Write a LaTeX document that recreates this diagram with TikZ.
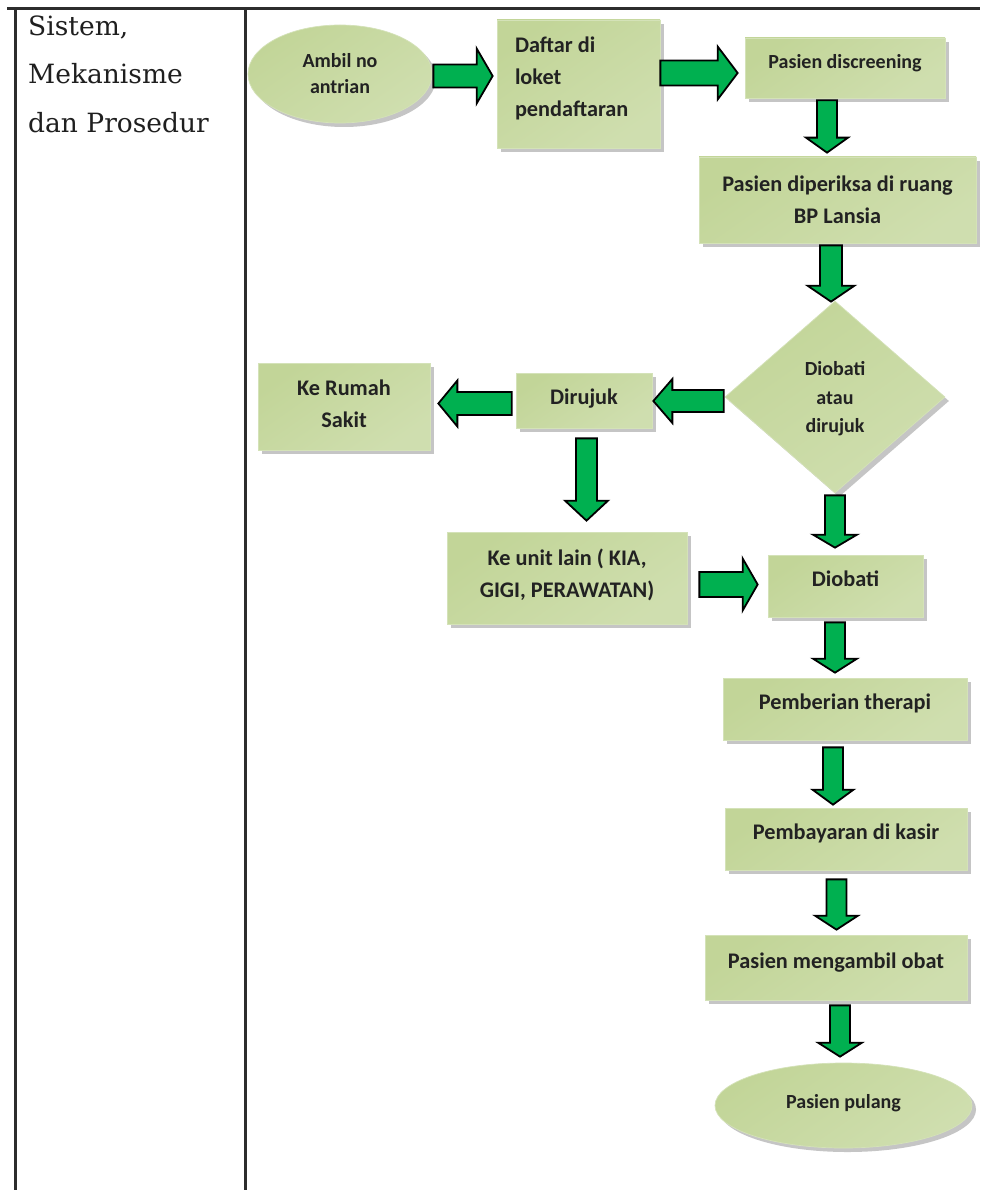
\documentclass[tikz,border=0pt]{standalone}
\usepackage{fontspec}
\newfontfamily\carlito{Carlito}
\newfontfamily\djserif{DejaVu Serif}
\usetikzlibrary{shapes.geometric,shadows,calc}
\definecolor{boxdark}{RGB}{194,213,152}
\definecolor{boxlight}{RGB}{238,244,228}
\definecolor{boxedge}{RGB}{212,226,184}
\definecolor{agreen}{RGB}{0,176,80}
\definecolor{txt}{RGB}{34,34,34}
\definecolor{rulec}{RGB}{45,45,45}
\newcommand\blockarrow[5]{%
  \coordinate (bs) at (#1);
  \coordinate (bt) at (#2);
  \coordinate (bb) at ($(bt)!#5!(bs)$);
  \draw[blockarr] ($(bs)!#3!90:(bt)$) -- ($(bb)!#3!90:(bt)$) -- ($(bb)!#4!90:(bt)$) -- (bt)
     -- ($(bb)!#4!-90:(bt)$) -- ($(bb)!#3!-90:(bt)$) -- ($(bs)!#3!-90:(bt)$) -- cycle;
}
\begin{document}
\begin{tikzpicture}[x=1pt,y=-1pt,
  fillbase/.style={draw=boxedge, line width=0.7pt, top color=boxdark, middle color=boxlight,
     bottom color=boxdark!70!boxlight, shading angle=35,
     drop shadow={shadow xshift=4pt,shadow yshift=-4pt,fill=black!45},
     text=txt, align=center, inner sep=1pt},
  bigtext/.style={font=\carlito\bfseries\fontsize{22.3}{32}\selectfont},
  smalltext/.style={font=\carlito\bfseries\fontsize{20}{27}\selectfont},
  box/.style={fillbase, rectangle, bigtext},
  oneline/.style={text height=14pt, text depth=13pt},
  oval/.style={fillbase, ellipse, smalltext, inner sep=0pt},
  decision/.style={fillbase, diamond, inner sep=0pt, font=\carlito\bfseries\fontsize{20}{28.5}\selectfont},
  blockarr/.style={fill=agreen, draw=black, line width=1.8pt, line join=miter},
  tableline/.style={draw=rulec, line width=3pt},
  seriflabel/.style={anchor=base west, inner sep=0pt, text=black!88, font=\djserif\fontsize{26.5}{30}\selectfont}
]
\useasboundingbox (0,0) rectangle (980,1190);
\fill[white] (0,0) rectangle (980,1190);

% table rules
\draw[tableline] (7,9) -- (980,9);
\draw[tableline] (15,9) -- (15,1190);
\draw[tableline] (245,9) -- (245,1190);

% left column text
\node[seriflabel] (l1) at (28,36) {Sistem,};
\node[seriflabel] (l2) at (28,84) {Mekanisme};
\node[seriflabel] (l3) at (28,133) {dan Prosedur};

% nodes
\node[oval, minimum width=184pt, minimum height=98pt, font=\carlito\bfseries\fontsize{20}{26}\selectfont] (ambil) at (340,74) {Ambil no\\antrian};
\node[box, minimum width=163pt, minimum height=128pt, text width=127pt, align=flush left, text depth=78pt] (daftar) at (578.5,84) {Daftar di\\loket\\pendaftaran};
\node[box, oneline, smalltext, minimum width=200pt, minimum height=60pt] (screen) at (845,68) {Pasien discreening};
\node[box, minimum width=277pt, minimum height=86pt] (periksa) at (837.5,200) {Pasien diperiksa di ruang\\BP Lansia};
\node[decision, minimum width=220pt, minimum height=192pt, text depth=-4pt] (dia) at (835,397) {Diobati\\atau\\dirujuk};
\node[box, text height=14pt, text depth=6pt, minimum width=136pt, minimum height=55pt] (dirujuk) at (584,400.5) {Dirujuk};
\node[box, minimum width=172pt, minimum height=87pt, text depth=6pt] (rs) at (344,406.5) {Ke Rumah\\Sakit};
\node[box, minimum width=240pt, minimum height=92pt, text depth=10pt] (unit) at (567,578) {Ke unit lain ( KIA,\\GIGI, PERAWATAN)};
\node[box, oneline, minimum width=155pt, minimum height=62pt] (diobati) at (845.5,586) {Diobati};
\node[box, oneline, minimum width=244pt, minimum height=62pt] (therapi) at (845,709) {Pemberian therapi};
\node[box, oneline, minimum width=242pt, minimum height=62pt] (bayar) at (846,839) {Pembayaran di kasir};
\node[box, oneline, minimum width=262pt, minimum height=65pt] (ambilobat) at (836,967.5) {Pasien mengambil obat};
\node[oval, minimum width=257pt, minimum height=85pt, text height=13pt, text depth=8pt] (pulang) at (843.5,1105.5) {Pasien pulang};

% block arrows
\blockarrow{$(ambil.east)+(1,2)$}{$(daftar.west)+(-4,-8)$}{11.5pt}{27.5pt}{16pt}
\blockarrow{$(daftar.east)+(0,-11)$}{$(screen.west)+(-7,5)$}{12.5pt}{26.5pt}{20pt}
\blockarrow{$(screen.south)+(-18,2)$}{$(periksa.north)+(-10.5,-4)$}{10pt}{21pt}{15pt}
\blockarrow{$(periksa.south)+(-6.5,2)$}{$(dia.north)+(-4,1)$}{11pt}{23.5pt}{16pt}
\blockarrow{$(dia.west)+(-1,4)$}{$(dirujuk.east)+(1,0.5)$}{11pt}{22pt}{19pt}
\blockarrow{$(dirujuk.west)+(-4,3)$}{$(rs.east)+(8,-3)$}{11.5pt}{23pt}{19pt}
\blockarrow{$(dirujuk.south)+(2.5,10)$}{$(unit.north)+(19.5,-11)$}{10.5pt}{21.5pt}{20pt}
\blockarrow{$(unit.east)+(12,6.5)$}{$(diobati.west)+(-10,-1.5)$}{12.5pt}{26pt}{15pt}
\blockarrow{$(dia.south)+(0,2)$}{$(diobati.north)+(-10.5,-7)$}{10pt}{22pt}{13pt}
\blockarrow{$(diobati.south)+(-10.5,5)$}{$(therapi.north)+(-10,-5)$}{10pt}{22pt}{14pt}
\blockarrow{$(therapi.south)+(-12,7)$}{$(bayar.north)+(-13,-3)$}{10pt}{20.5pt}{15pt}
\blockarrow{$(bayar.south)+(-9.5,9)$}{$(ambilobat.north)+(0.5,-5)$}{10pt}{21.5pt}{14pt}
\blockarrow{$(ambilobat.south)+(4,5)$}{$(pulang.north)+(-3.5,-6)$}{10pt}{22pt}{14pt}
\end{tikzpicture}
\end{document}
